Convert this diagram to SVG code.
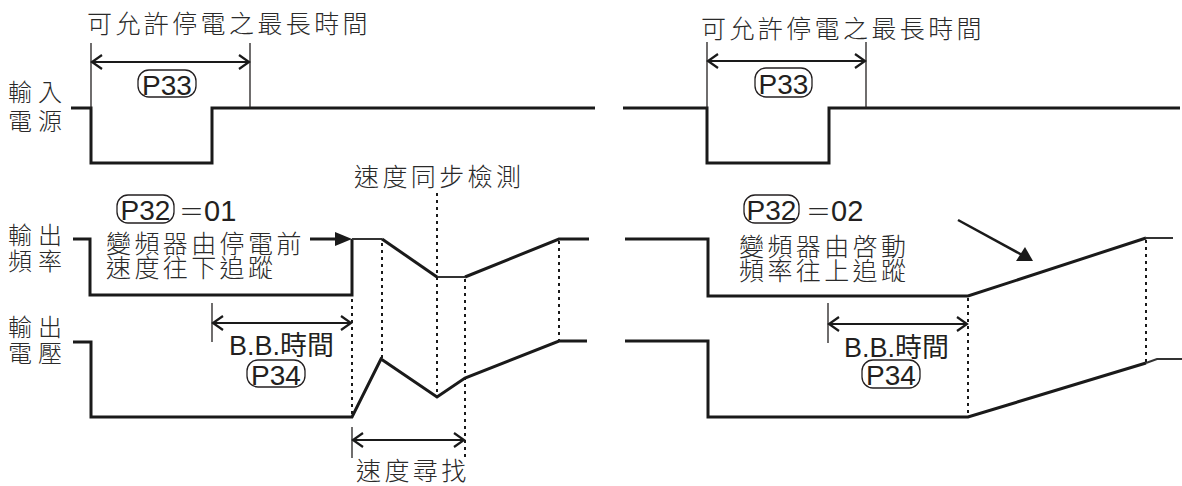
<svg xmlns="http://www.w3.org/2000/svg" width="1182" height="486" viewBox="0 0 1182 486">
<style>
.cjk{font-family:"Noto Sans CJK TC","Noto Sans CJK SC",sans-serif;font-size:25px;font-weight:300;fill:#2a2a2a;letter-spacing:3.4px}
.lbl{font-family:"Noto Sans CJK TC","Noto Sans CJK SC",sans-serif;font-size:24px;font-weight:300;fill:#2a2a2a;letter-spacing:6px}
.lat{font-family:"Liberation Sans","Noto Sans CJK TC",sans-serif;font-size:28px;fill:#231f20}
.sig{fill:none;stroke:#1a1a1a;stroke-width:3;stroke-linejoin:miter}
.sigt{fill:none;stroke:#333;stroke-width:2}
.thin{fill:none;stroke:#231f20;stroke-width:1.3}
.dot{fill:none;stroke:#1a1a1a;stroke-width:2;stroke-dasharray:3 4}
.box{fill:none;stroke:#231f20;stroke-width:1.3}
.dim{fill:none;stroke:#1a1a1a;stroke-width:2;marker-start:url(#open);marker-end:url(#open)}
</style>
<defs>
<marker id="open" viewBox="-12 -9 14 18" markerWidth="14" markerHeight="18" refX="0" refY="0" orient="auto-start-reverse" markerUnits="userSpaceOnUse">
<path d="M-10,-7 L0,0 L-10,7" fill="none" stroke="#1a1a1a" stroke-width="2.2"/>
</marker>
</defs>

<!-- LEFT PANEL -->
<g id="left-title">
<text class="cjk" x="87" y="33">可允許停電之最長時間</text>
</g>
<g id="left-labels">
<text class="lbl" x="8" y="101">輸入<tspan x="8" dy="29">電源</tspan></text>
<text class="lbl" x="8" y="244">輸出<tspan x="8" dy="26">頻率</tspan></text>
<text class="lbl" x="8" y="336">輸出<tspan x="8" dy="26">電壓</tspan></text>
</g>
<g id="left-input">
<polyline class="sig" points="71,108 91,108 91,163 212,163 212,108 595,108"/>
</g>
<g id="left-freq">
<polyline class="sig" points="73,239 90,239 90,295 352,295 352,239"/>
<polyline class="sigt" points="352,239 382,239"/>
<polyline class="sig" points="382,239 437,277"/>
<polyline class="sigt" points="437,277 465,277"/>
<polyline class="sig" points="465,277 559,239 589,239"/>
</g>
<g id="left-volt">
<polyline class="sig" points="73,342 91,342 91,417 352,417 381,359 437,397 465,378 559,341 587,341"/>
</g>
<g id="left-p33">
<rect class="box" x="138" y="70" width="58" height="27" rx="11"/>
<text class="lat" x="167" y="94.5" text-anchor="middle">P33</text>
</g>
<g id="left-p32">
<rect class="box" x="117" y="195" width="57" height="28" rx="11"/>
<text class="lat" x="145.5" y="219.5" text-anchor="middle">P32</text>
<text x="179" y="221"><tspan class="cjk" style="letter-spacing:0">＝</tspan><tspan class="lat" style="font-size:29px">01</tspan></text>
</g>
<g id="left-note">
<text class="cjk" x="106" y="253">變頻器由停電前<tspan x="106" dy="24">速度往下追蹤</tspan></text>
</g>
<g id="left-sync">
<text class="cjk" x="354" y="186">速度同步檢測</text>
</g>
<g id="left-bb">
<text class="lat" x="229" y="355" style="font-size:27px">B.B.時間</text>
<rect class="box" x="247" y="360" width="58" height="27" rx="11"/>
<text class="lat" x="276" y="384.5" text-anchor="middle">P34</text>
</g>
<g id="left-search">
<text class="cjk" x="356" y="480">速度尋找</text>
</g>

<!-- RIGHT PANEL -->
<g id="right-title">
<text class="cjk" x="701" y="38">可允許停電之最長時間</text>
</g>
<g id="right-input">
<polyline class="sig" points="623,108 707,108 707,163 829,163 829,108 1180,108"/>
</g>
<g id="right-freq">
<polyline class="sig" points="625,239 708,239 708,296 968,296 1146,238"/>
<polyline class="sigt" points="1146,238 1173,238"/>
</g>
<g id="right-volt">
<polyline class="sig" points="625,341 708,341 708,417 968,417 1146,363"/>
<polyline class="sigt" points="1146,363 1157,359 1182,359"/>
</g>
<g id="right-p33">
<rect class="box" x="755" y="68" width="57" height="29" rx="11"/>
<text class="lat" x="783.5" y="94" text-anchor="middle">P33</text>
</g>
<g id="right-p32">
<rect class="box" x="744" y="195" width="55" height="28" rx="11"/>
<text class="lat" x="771.5" y="219.5" text-anchor="middle">P32</text>
<text x="806" y="221"><tspan class="cjk" style="letter-spacing:0">＝</tspan><tspan class="lat" style="font-size:29px">02</tspan></text>
</g>
<g id="right-note">
<text class="cjk" x="739" y="256">變頻器由啓動<tspan x="739" dy="24">頻率往上追蹤</tspan></text>
</g>
<g id="right-bb">
<text class="lat" x="844" y="357" style="font-size:27px">B.B.時間</text>
<rect class="box" x="862" y="360" width="58" height="28" rx="11"/>
<text class="lat" x="891" y="385" text-anchor="middle">P34</text>
</g>

<!-- CONNECTORS -->
<g id="connectors">
<line class="thin" x1="91" y1="43" x2="91" y2="108"/>
<line class="thin" x1="250" y1="43" x2="250" y2="108"/>
<line class="dim" x1="92" y1="62" x2="249" y2="62"/>
<line class="thin" x1="212" y1="303" x2="212" y2="342"/>
<line class="dim" x1="213" y1="323" x2="351" y2="323"/>
<line class="thin" x1="352" y1="427" x2="352" y2="458"/>
<line class="dim" x1="353" y1="440" x2="464" y2="440"/>
<line class="dot" x1="352" y1="299" x2="352" y2="416"/>
<line class="dot" x1="382" y1="243" x2="382" y2="358"/>
<line class="dot" x1="437" y1="193" x2="437" y2="396"/>
<line class="dot" x1="465" y1="279" x2="465" y2="458"/>
<line class="dot" x1="559" y1="241" x2="559" y2="340"/>
<line x1="310" y1="239" x2="337" y2="239" stroke="#1a1a1a" stroke-width="3"/>
<polygon points="352,239 335,232 335,246" fill="#1a1a1a"/>
<line class="thin" x1="707" y1="42" x2="707" y2="108"/>
<line class="thin" x1="866" y1="42" x2="866" y2="108"/>
<line class="dim" x1="708" y1="61" x2="865" y2="61"/>
<line class="thin" x1="828" y1="303" x2="828" y2="343"/>
<line class="dim" x1="829" y1="324" x2="967" y2="324"/>
<line class="dot" x1="968" y1="298" x2="968" y2="416"/>
<line class="dot" x1="1146" y1="240" x2="1146" y2="362"/>
<line x1="958" y1="220" x2="1024" y2="256" stroke="#1a1a1a" stroke-width="2.5"/>
<polygon points="1033,261 1016,261 1025,247" fill="#1a1a1a"/>
</g>
</svg>
